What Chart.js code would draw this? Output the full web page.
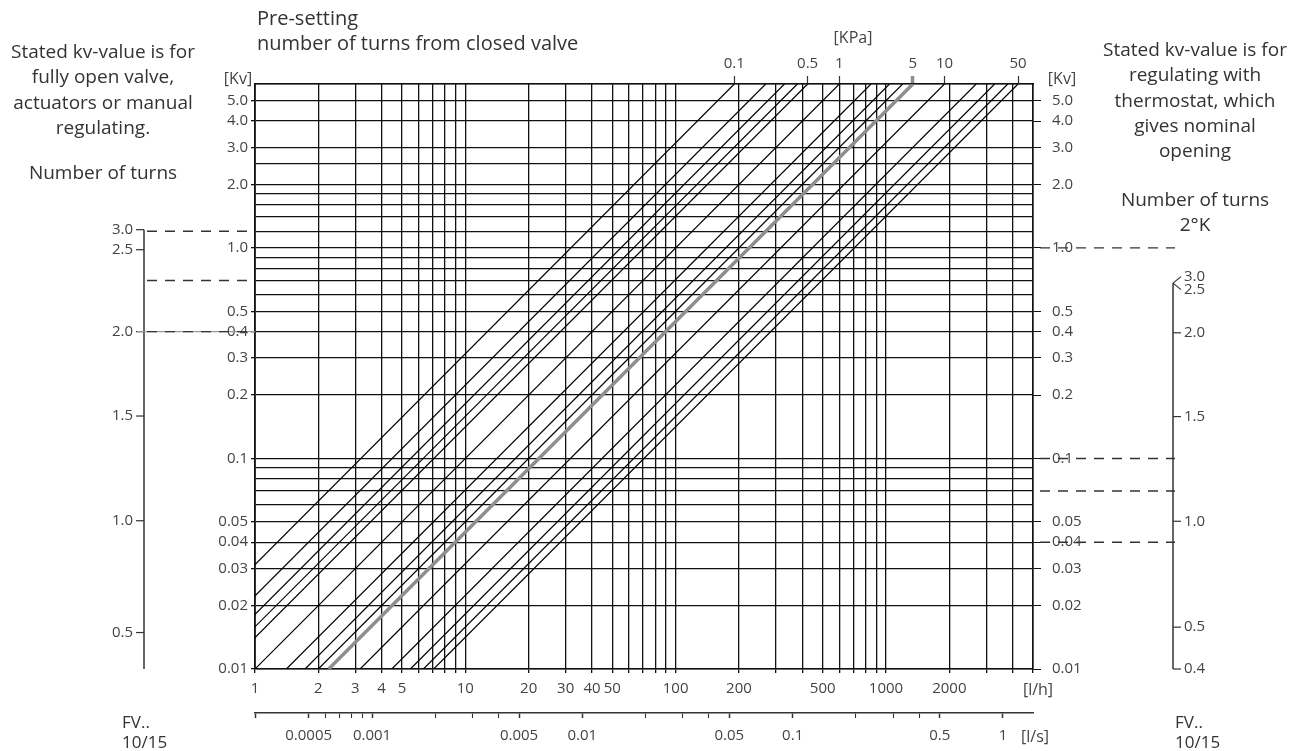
<!DOCTYPE html>
<html>
<head>
<meta charset="utf-8">
<script src="https://cdn.jsdelivr.net/npm/chart.js@4.4.1/dist/chart.umd.min.js"></script>
<style>
  body { margin: 0; background: #fff; }
  #wrap { position: relative; width: 1300px; height: 751px; font-family: 'Open Sans', sans-serif; color: #333; }
  #wrap canvas { position: absolute; left: 0; top: 0; }
  .txt { position: absolute; white-space: nowrap; }
  .note { font-size: 19px; line-height: 25.3px; text-align: center; }
  .unit { font-size: 16px; line-height: 18px; text-align: center; width: 60px; color: #444; }
  .fv { font-size: 17px; line-height: 20px; }
</style>
</head>
<body>
<div id="wrap">
  <canvas id="nomogram" width="1300" height="751"></canvas>
  <div class="txt note" style="left:0;top:39px;width:206px">Stated kv-value is for<br>fully open valve,<br>actuators or manual<br>regulating.</div>
  <div class="txt note" style="left:0;top:160px;width:206px">Number of turns</div>
  <div class="txt note" style="left:257px;top:5px;text-align:left;font-size:20px">Pre-setting<br>number of turns from closed valve</div>
  <div class="txt note" style="left:1095px;top:37px;width:200px">Stated kv-value is for<br>regulating with<br>thermostat, which<br>gives nominal<br>opening</div>
  <div class="txt note" style="left:1095px;top:187px;width:200px">Number of turns<br>2°K</div>
  <div class="txt unit" style="left:823px;top:28px">[KPa]</div>
  <div class="txt unit" style="left:208px;top:69px">[Kv]</div>
  <div class="txt unit" style="left:1032px;top:69px">[Kv]</div>
  <div class="txt unit" style="left:1008px;top:680px">[l/h]</div>
  <div class="txt unit" style="left:1005px;top:727px">[l/s]</div>
  <div class="txt fv" style="left:122px;top:712px">FV..<br>10/15</div>
  <div class="txt fv" style="left:1175px;top:712px">FV..<br>10/15</div>
</div>
<script>
// flow axis (l/h): grid lines and their labels
const flowGrid = [1, 2, 3, 4, 5, 6, 7, 8, 9, 10, 20, 30, 40, 50, 60, 70, 80, 90, 100,
  200, 300, 400, 500, 600, 700, 800, 900, 1000, 2000, 3000, 4000, 5000];
const flowLabels = ['1', '2', '3', '4', '5', '', '', '', '', '10', '20', '30', '40', '50', '', '', '', '', '100',
  '200', '', '', '500', '', '', '', '', '1000', '2000', '', '', ''];

// Kv axis: grid lines and labels
const kvGrid = [0.01, 0.02, 0.03, 0.04, 0.05, 0.06, 0.07, 0.08, 0.09, 0.1, 0.2, 0.3, 0.4, 0.5,
  0.6, 0.7, 0.8, 0.9, 1, 1.2, 1.4, 1.6, 1.8, 2, 2.5, 3, 4, 5, 6];
const kvLabels = ['0.01', '0.02', '0.03', '0.04', '0.05', '', '', '', '', '0.1', '0.2', '0.3', '0.4', '0.5',
  '', '', '', '', '1.0', '', '', '', '', '2.0', '', '3.0', '4.0', '5.0', ''];

// second flow axis (l/s)
const lsTicks = [0.000278, 0.0005, 0.0006, 0.0007, 0.0008, 0.0009, 0.001, 0.002, 0.003, 0.004, 0.005,
  0.01, 0.02, 0.03, 0.04, 0.05, 0.1, 0.2, 0.3, 0.4, 0.5, 1];
const lsLabels = ['', '0.0005', '', '', '', '', '0.001', '', '', '', '0.005',
  '0.01', '', '', '', '0.05', '0.1', '', '', '', '0.5', '1'];

// pressure-drop lines (kPa): flow where each meets Kv 0.01 and Kv 6
const lineKpa = [0.1, 0.2, 0.3, 0.4, 0.5, 1, 2, 3, 4, 5, 10, 20, 30, 40, 50];
const flowAtKvLow = [0.32, 0.45, 0.55, 0.63, 0.71, 1.0, 1.41, 1.73, 2.0, 2.24, 3.16, 4.47, 5.48, 6.32, 7.07];
const flowAtKvHigh = [190, 268, 329, 379, 424, 600, 849, 1039, 1200, 1342, 1897, 2683, 3286, 3795, 4243];
const kpaLabelled = [0.1, 0.5, 1, 5, 10, 50];
const highlightKpa = 5;

// number-of-turns scales (position given as Kv)
const leftTurnLabels = ['3.0', '2.5', '2.0', '1.5', '1.0', '0.5'];
const leftTurnKv = [1.22, 0.98, 0.4, 0.159, 0.0506, 0.0149];
const rightTurnLabels = ['3.0', '2.5', '2.0', '1.5', '1.0', '0.5', '0.4'];
const rightTurnKv = [0.68, 0.68, 0.395, 0.158, 0.0503, 0.0158, 0.01];
const leftDashKv = [1.2, 0.7, 0.4];
const leftDashUnderlay = [false, false, true];
const rightDashKv = [1.0, 0.1, 0.07, 0.04];

const INK = '#111';
const HIGHLIGHT = '#8e8e8e';

const kpaTicks = lineKpa.map((p, i) => ({ kpa: p, flow: flowAtKvHigh[i] })).filter(t => kpaLabelled.includes(t.kpa));

const datasets = lineKpa.map((p, i) => ({
  label: p + ' kPa',
  data: [{ x: flowAtKvLow[i], y: kvGrid[0] }, { x: flowAtKvHigh[i], y: kvGrid[kvGrid.length - 1] }],
  showLine: true,
  pointRadius: 0,
  borderColor: p === highlightKpa ? HIGHLIGHT : '#000',
  borderWidth: p === highlightKpa ? 3.5 : 1.2,
  order: p === highlightKpa ? 0 : 1
}));

function setTicks(values) {
  return scale => { scale.ticks = values.map(v => ({ value: v })); };
}
const hidden = 'rgba(0,0,0,0)';

function drawTurnsAxis(ctx, yScale, x, kv, labels, side, bottom) {
  const pos = kv.map(v => yScale.getPixelForValue(v));
  const lab = pos.slice();
  for (let i = 1; i < lab.length; i++) {
    if (lab[i] - lab[i - 1] < 13) {
      const mid = (lab[i] + lab[i - 1]) / 2;
      lab[i - 1] = mid - 6.5;
      lab[i] = mid + 6.5;
    }
  }
  ctx.lineWidth = 1.5;
  ctx.beginPath();
  ctx.moveTo(x, Math.min(...pos));
  ctx.lineTo(x, bottom);
  ctx.stroke();
  ctx.lineWidth = 1.2;
  ctx.textAlign = side < 0 ? 'right' : 'left';
  ctx.textBaseline = 'middle';
  pos.forEach((p, i) => {
    ctx.beginPath();
    ctx.moveTo(x, p);
    ctx.lineTo(x + side * 8, lab[i]);
    ctx.stroke();
    ctx.fillText(labels[i], x + side * 11, lab[i]);
  });
}

function dashed(ctx, x1, x2, py) {
  ctx.setLineDash([10, 8]);
  ctx.beginPath();
  ctx.moveTo(x1, py);
  ctx.lineTo(x2, py);
  ctx.stroke();
  ctx.setLineDash([]);
}

const sideScales = {
  id: 'sideScales',
  afterDraw(chart) {
    const ctx = chart.ctx, y = chart.scales.y, area = chart.chartArea;
    ctx.save();
    ctx.font = '15px "Open Sans"';
    ctx.fillStyle = '#444';
    ctx.strokeStyle = '#333';
    drawTurnsAxis(ctx, y, 144, leftTurnKv, leftTurnLabels, -1, area.bottom);
    drawTurnsAxis(ctx, y, 1173, rightTurnKv, rightTurnLabels, 1, area.bottom);
    ctx.lineWidth = 1.4;
    leftDashKv.forEach((v, i) => {
      const py = y.getPixelForValue(v);
      if (leftDashUnderlay[i]) {
        ctx.strokeStyle = '#999';
        ctx.beginPath(); ctx.moveTo(137, py); ctx.lineTo(area.left, py); ctx.stroke();
        ctx.strokeStyle = '#333';
      }
      dashed(ctx, 147, area.left, py);
    });
    rightDashKv.forEach(v => dashed(ctx, area.right + 7, 1175, y.getPixelForValue(v)));
    ctx.restore();
  }
};

Chart.defaults.font.family = '"Open Sans", sans-serif';
Chart.defaults.font.size = 15;
Chart.defaults.color = '#444';

new Chart(document.getElementById('nomogram'), {
  type: 'scatter',
  data: { datasets },
  options: {
    responsive: false,
    animation: false,
    layout: { padding: { left: 195, right: 217, top: 44, bottom: 0 } },
    plugins: { legend: { display: false }, tooltip: { enabled: false } },
    scales: {
      x: {
        type: 'logarithmic', position: 'bottom', min: flowGrid[0], max: flowGrid[flowGrid.length - 1],
        afterBuildTicks: setTicks(flowGrid),
        afterFit: s => { s.height = 44; },
        ticks: { autoSkip: false, maxRotation: 0, padding: 7, callback: (v, i) => flowLabels[i] },
        grid: { color: INK, lineWidth: 1.3, tickLength: 4 },
        border: { color: INK, width: 1.6 }
      },
      xs: {
        type: 'logarithmic', position: 'bottom', weight: 1,
        min: flowGrid[0] / 3600, max: flowGrid[flowGrid.length - 1] / 3600,
        afterBuildTicks: setTicks(lsTicks),
        afterFit: s => { s.height = 38; },
        ticks: { autoSkip: false, maxRotation: 0, padding: 9, callback: (v, i) => lsLabels[i] },
        grid: { drawOnChartArea: false, tickLength: 5, tickColor: '#333',
          tickWidth: c => (lsLabels[c.index] || c.index === 0) ? 1.5 : 1.1 },
        border: { color: '#333', width: 1.5 }
      },
      xTop: {
        type: 'logarithmic', position: 'top', min: flowGrid[0], max: flowGrid[flowGrid.length - 1],
        afterBuildTicks: setTicks(kpaTicks.map(t => t.flow)),
        afterFit: s => { s.height = 40; },
        ticks: { autoSkip: false, maxRotation: 0, padding: 3, callback: (v, i) => String(kpaTicks[i].kpa) },
        grid: { drawOnChartArea: false, tickLength: 8,
          tickColor: c => kpaTicks[c.index] && kpaTicks[c.index].kpa === highlightKpa ? HIGHLIGHT : '#333',
          tickWidth: c => kpaTicks[c.index] && kpaTicks[c.index].kpa === highlightKpa ? 3.5 : 1.2 },
        border: { color: INK, width: 1.6 }
      },
      y: {
        type: 'logarithmic', position: 'left', min: kvGrid[0], max: kvGrid[kvGrid.length - 1],
        afterBuildTicks: setTicks(kvGrid),
        afterFit: s => { s.width = 60; },
        ticks: { autoSkip: false, padding: 3, callback: (v, i) => kvLabels[i] },
        grid: { color: INK, lineWidth: 1.3, tickLength: 4,
          tickColor: c => kvLabels[c.index] ? INK : hidden },
        border: { color: INK, width: 1.8 }
      },
      y2: {
        type: 'logarithmic', position: 'right', min: kvGrid[0], max: kvGrid[kvGrid.length - 1],
        afterBuildTicks: setTicks(kvGrid),
        afterFit: s => { s.width = 50; },
        ticks: { autoSkip: false, padding: 11, callback: (v, i) => kvLabels[i] },
        grid: { drawOnChartArea: false, tickLength: 8,
          tickColor: c => kvLabels[c.index] ? INK : hidden },
        border: { color: INK, width: 1.6 }
      }
    }
  },
  plugins: [sideScales]
});
</script>
</body>
</html>
